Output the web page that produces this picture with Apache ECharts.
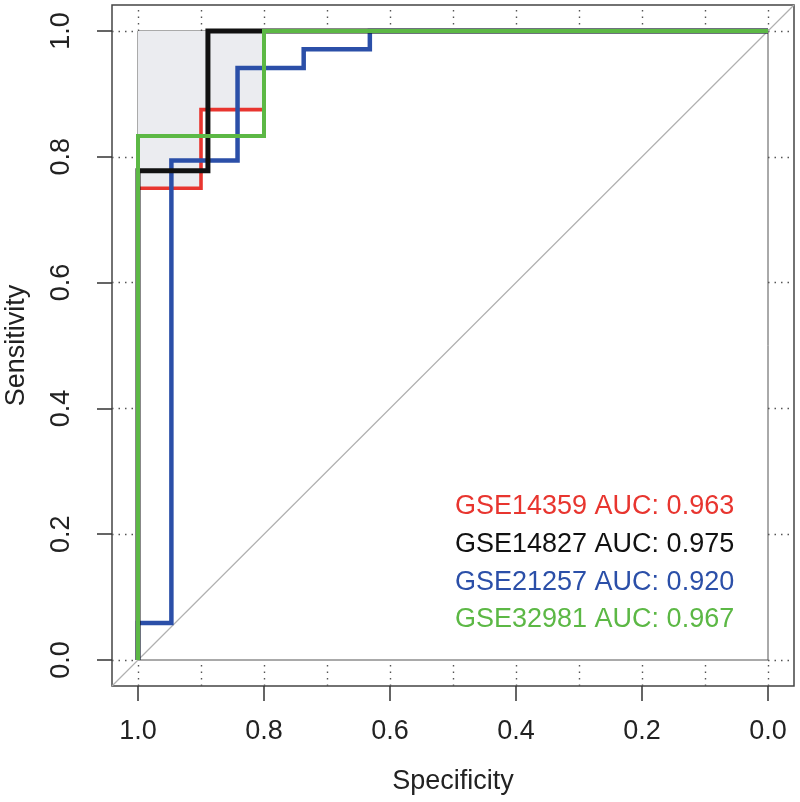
<!DOCTYPE html>
<html>
<head>
<meta charset="utf-8">
<script src="https://cdn.jsdelivr.net/npm/echarts@6/dist/echarts.min.js"></script>
<style>
html,body{margin:0;padding:0;background:#fff;}
#c{width:800px;height:802px;}
</style>
</head>
<body>
<div id="c"></div>
<script>
// ---- data ----
const SERIES_NAMES = ['GSE14359', 'GSE14827', 'GSE21257', 'GSE32981'];
const AUC_VALUES = ['0.963', '0.975', '0.920', '0.967'];
const COLORS = ['#e8352f', '#111111', '#2b4fa8', '#5cb845'];

const RED_SPEC   = [1.0, 1.0, 0.9, 0.9, 0.8, 0.8, 0.0];
const RED_SENS   = [0.0, 0.75, 0.75, 0.875, 0.875, 1.0, 1.0];
const BLACK_SPEC = [1.0, 1.0, 0.889, 0.889, 0.0];
const BLACK_SENS = [0.0, 0.778, 0.778, 1.0, 1.0];
const BLUE_SPEC  = [1.0, 1.0, 0.947, 0.947, 0.842, 0.842, 0.737, 0.737, 0.632, 0.632, 0.0];
const BLUE_SENS  = [0.0, 0.059, 0.059, 0.794, 0.794, 0.941, 0.941, 0.971, 0.971, 1.0, 1.0];
const GREEN_SPEC = [1.0, 1.0, 0.8, 0.8, 0.0];
const GREEN_SENS = [0.0, 0.833, 0.833, 1.0, 1.0];

const X_TICKS = [1.0, 0.8, 0.6, 0.4, 0.2, 0.0];
const Y_TICKS = [0.0, 0.2, 0.4, 0.6, 0.8, 1.0];
const X_GRID  = [1.0, 0.9, 0.8, 0.7, 0.6, 0.5, 0.4, 0.3, 0.2, 0.1, 0.0];
const Y_GRID  = [0.0, 0.2, 0.4, 0.6, 0.8, 1.0];

// ---- layout ----
const FONT = "'Liberation Sans', Arial, Helvetica, sans-serif";
const IN = {left: 138, top: 31, width: 630, height: 629};
const M = 26; // margin of outer box
const EXX = M / IN.width, EXY = M / IN.height;
const XMIN = -EXX, XMAX = 1 + EXX, YMIN = -EXY, YMAX = 1 + EXY;

const zip = (a, b) => a.map((v, i) => [v, b[i]]);
const curves = [zip(RED_SPEC, RED_SENS), zip(BLACK_SPEC, BLACK_SENS), zip(BLUE_SPEC, BLUE_SENS), zip(GREEN_SPEC, GREEN_SENS)];
const widths = [3.6, 5, 4.5, 4];

// grey polygon: area above red curve where spec >= 0.8
const redPts = curves[0].filter(p => p[0] >= 0.8 && p[1] > 0);
const POLY = redPts.concat([[redPts[0][0], redPts[redPts.length - 1][1]]]);

// dotted grid segments in margins
const gridSegs = [];
X_GRID.forEach(t => {
  gridSegs.push({coords: [[t, YMIN], [t, 0]]});
  gridSegs.push({coords: [[t, 1], [t, YMAX]]});
});
Y_GRID.forEach(s => {
  gridSegs.push({coords: [[XMAX, s], [1, s]]});
  gridSegs.push({coords: [[0, s], [XMIN, s]]});
});

const chart = echarts.init(document.getElementById('c'), null, {renderer: 'canvas'});
const onOuter = {xAxisIndex: 1, yAxisIndex: 1};

const drawOrder = [0, 2, 1, 3];
const curveSeries = drawOrder.map((i, k) => Object.assign({
  name: SERIES_NAMES[i],
  type: 'line',
  data: curves[i],
  symbol: 'none',
  showSymbol: false,
  lineStyle: {color: COLORS[i], width: widths[i], join: 'miter', cap: 'butt'},
  itemStyle: {color: COLORS[i]},
  z: 10 + k,
  animation: false
}, onOuter));

const option = {
  animation: false,
  backgroundColor: '#fff',
  textStyle: {fontFamily: FONT},
  grid: [
    {left: IN.left, top: IN.top, width: IN.width, height: IN.height, show: true,
     borderColor: '#555', borderWidth: 1, backgroundColor: 'transparent', containLabel: false,
     outerBoundsMode: 'none'},
    {left: IN.left - M, top: IN.top - M, width: IN.width + 2 * M, height: IN.height + 2 * M, show: true,
     borderColor: '#444', borderWidth: 1.5, backgroundColor: 'transparent', containLabel: false,
     outerBoundsMode: 'none'}
  ],
  xAxis: [
    {type: 'value', gridIndex: 0, position: 'bottom', min: 0, max: 1, interval: 0.2, inverse: true, offset: M,
     axisLine: {show: false, onZero: false},
     axisTick: {show: true, inside: false, length: 15, lineStyle: {color: '#333', width: 1.5}},
     axisLabel: {formatter: v => v.toFixed(1), fontSize: 27, margin: 32, color: '#222', fontFamily: FONT},
     splitLine: {show: false},
     name: 'Specificity', nameLocation: 'middle', nameGap: 82,
     nameTextStyle: {fontSize: 27, color: '#222', fontFamily: FONT}},
    {type: 'value', gridIndex: 1, min: XMIN, max: XMAX, inverse: true, show: false}
  ],
  yAxis: [
    {type: 'value', gridIndex: 0, position: 'left', min: 0, max: 1, interval: 0.2, offset: M,
     axisLine: {show: false, onZero: false},
     axisTick: {show: true, inside: false, length: 15, lineStyle: {color: '#333', width: 1.5}},
     axisLabel: {formatter: v => v.toFixed(1), fontSize: 27, margin: 37, rotate: 90, color: '#222', fontFamily: FONT},
     splitLine: {show: false},
     name: 'Sensitivity', nameLocation: 'middle', nameGap: 82, nameRotate: 90,
     nameTextStyle: {fontSize: 27, color: '#222', fontFamily: FONT}},
    {type: 'value', gridIndex: 1, min: YMIN, max: YMAX, show: false}
  ],
  legend: {
    orient: 'vertical', left: 445, top: 486, icon: 'none', itemWidth: 0, itemHeight: 0, itemGap: 6,
    selectedMode: false,
    data: SERIES_NAMES.map((n, i) => ({name: n, textStyle: {color: COLORS[i]}})),
    formatter: n => n + ' AUC: ' + AUC_VALUES[SERIES_NAMES.indexOf(n)],
    textStyle: {fontSize: 27, lineHeight: 31.7, fontFamily: FONT}
  },
  series: [
    Object.assign({
      type: 'custom', z: 2, silent: true,
      data: [[0]],
      renderItem: (params, api) => ({
        type: 'polygon',
        shape: {points: POLY.map(p => api.coord(p))},
        style: {fill: '#ebecf0', stroke: null}
      })
    }, onOuter),
    Object.assign({
      type: 'lines', coordinateSystem: 'cartesian2d', z: 3, silent: true,
      data: gridSegs,
      lineStyle: {color: '#555', width: 1.4, type: [1.5, 5], opacity: 1}
    }, onOuter),
    Object.assign({
      type: 'line', z: 4, symbol: 'none', silent: true,
      data: [[XMAX, 1 - XMAX], [XMIN, 1 - XMIN]],
      lineStyle: {color: '#b0b0b0', width: 1.2}
    }, onOuter)
  ].concat(curveSeries)
};
chart.setOption(option);
</script>
</body>
</html>
